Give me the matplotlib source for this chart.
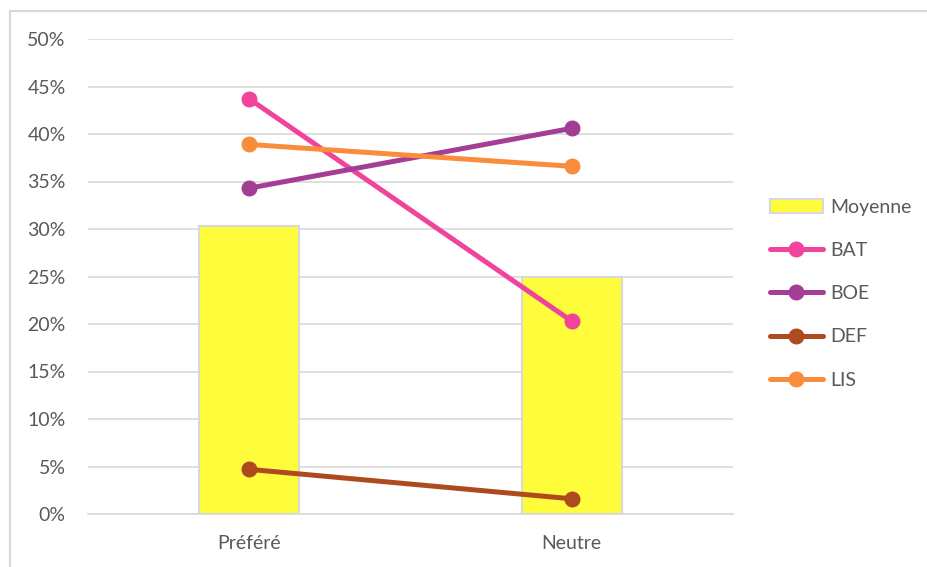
import matplotlib.pyplot as plt
import matplotlib.patches as patches
from matplotlib.lines import Line2D
from matplotlib.ticker import FuncFormatter

plt.rcParams["font.family"] = ["Lato", "DejaVu Sans"]

categories = ["Préféré", "Neutre"]
moyenne = [30.3, 24.9]
series_names = ["BAT", "BOE", "DEF", "LIS"]
bat = [43.7, 20.3]
boe = [34.3, 40.6]
def_ = [4.7, 1.6]
lis = [38.9, 36.6]
yticks = [0, 5, 10, 15, 20, 25, 30, 35, 40, 45, 50]

COLORS = {
    "BAT": "#F0449C",
    "BOE": "#A43D94",
    "DEF": "#AF4A1E",
    "LIS": "#F98D3B",
}
BAR_COLOR = "#FFFC3C"
GRID = "#D9D9D9"
TEXT = "#595959"

W, H = 928, 567
fig = plt.figure(figsize=(W / 100, H / 100), dpi=100)
ax = fig.add_axes([88 / W, 53 / H, 645 / W, 475 / H])

# outer chart frame (only top and left edges show in the crop)
fig.add_artist(Line2D([10 / W, 10 / W], [0, 1 - 11 / H], transform=fig.transFigure,
                      color=GRID, lw=1.5))
fig.add_artist(Line2D([10 / W, 1], [1 - 11 / H, 1 - 11 / H], transform=fig.transFigure,
                      color=GRID, lw=1.5))

x = [0, 1]
ax.bar(x, moyenne, width=0.31, color=BAR_COLOR, edgecolor=GRID, linewidth=1.5,
       zorder=2, label="Moyenne")

for name, vals in zip(series_names, [bat, boe, def_, lis]):
    ax.plot(x, vals, color=COLORS[name], lw=3.6, marker="o", markersize=10.5,
            solid_capstyle="round", zorder=3, label=name)

ax.set_xlim(-0.5, 1.5)
ax.set_ylim(0, 50)
ax.set_yticks(yticks)
ax.yaxis.set_major_formatter(FuncFormatter(lambda v, _: f"{v:.0f}%"))
ax.set_xticks(x)
ax.set_xticklabels(categories)
ax.grid(axis="y", color=GRID, lw=1.2, zorder=0)
ax.tick_params(length=0, labelsize=14, colors=TEXT)
ax.tick_params(axis="y", pad=16)
ax.tick_params(axis="x", pad=15)
for side in ["top", "right", "left"]:
    ax.spines[side].set_visible(False)
ax.spines["bottom"].set_color(GRID)
ax.spines["bottom"].set_linewidth(1.2)

handles = [patches.Patch(facecolor=BAR_COLOR, edgecolor=GRID, linewidth=1.5)]
handles += [Line2D([0], [0], color=COLORS[n], lw=3.6, marker="o", markersize=10.5,
                   solid_capstyle="round") for n in series_names]
labels = ["Moyenne"] + series_names
leg = fig.legend(handles, labels, loc="upper left", bbox_to_anchor=(760 / W, 1 - 189 / H),
                 frameon=False, fontsize=14, labelcolor=TEXT, handlelength=2.75,
                 handletextpad=0.35, labelspacing=1.35, borderpad=0)

fig.savefig("out.png", dpi=100)
